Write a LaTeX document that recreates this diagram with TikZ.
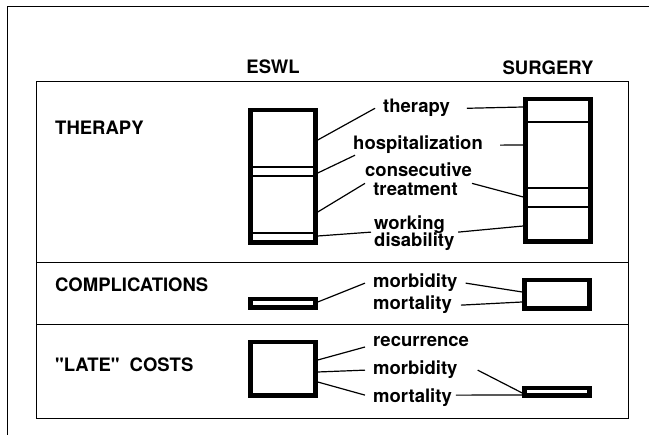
\documentclass[tikz,border=0pt]{standalone}
\usepackage{fontspec}
\setmainfont{TeX Gyre Heros}[Ligatures=TeXOff]
\usetikzlibrary{calc}

\begin{document}
\begin{tikzpicture}[x=1pt,y=-1pt,
	txt/.style={font=\fontsize{18.5}{20}\selectfont\bfseries, inner sep=3pt},
	bar/.style={draw, line width=4.5pt, inner sep=0pt, minimum width=65pt},
	link/.style={line width=1.2pt},
	frame/.style={line width=1pt}]
	\useasboundingbox (0,0) rectangle (649,435);
	% Frames
	\draw[frame] (649,7) -- (7,7) -- (7,435);
	\draw[frame] (36,82) rectangle (628,419);
	\draw[frame] (36,263) -- (628,263);
	\draw[frame] (36,325) -- (628,325);
	% Headings
	\node[txt, anchor=base] (hE) at (273,74) {ESWL};
	\node[txt, anchor=base] (hS) at (548,75) {SURGERY};
	\node[txt, anchor=base west] (rT) at (52,135) {THERAPY};
	\node[txt, anchor=base west] (rC) at (52,292) {COMPLICATIONS};
	\node[txt, anchor=base west] (rL) at (52,372) {"LATE"\hspace{10pt}COSTS};
	% Bars
	\node[bar, minimum height=132.5pt] (eT) at (283,176.5) {};
	\node[bar, minimum height=142.5pt] (sT) at (558,170.5) {};
	\node[bar, minimum height=8.5pt] (eC) at (283,303.5) {};
	\node[bar, minimum height=28.5pt] (sC) at (557,294.5) {};
	\node[bar, minimum height=53.5pt] (eL) at (283,369) {};
	\node[bar, minimum height=7.5pt] (sL) at (557,392) {};
	\foreach \y in {167,176,233}
		\draw[link] (eT.west |- 0,\y) -- (eT.east |- 0,\y);
	\foreach \y in {122,188,207}
		\draw[link] (sT.west |- 0,\y) -- (sT.east |- 0,\y);
	% Therapy
	\node[txt, anchor=base] (lTher) at (416.5,113) {therapy};
	\node[txt, anchor=base] (lHosp) at (418,150) {hospitalization};
	\node[txt, anchor=base] (lCons) at (418.5,177) {consecutive};
	\node[txt, anchor=base] (lTreat) at (415.5,196) {treatment};
	\node[txt, anchor=base west] (lWork) at (371,230) {working};
	\node[txt, anchor=base west] (lDis) at (371,247) {disability};
	\draw[link] (eT.east |- 0,140) -- ([xshift=-5pt]lTher.west);
	\draw[link] (eT.east |- 0,173) -- ([xshift=5pt,yshift=2pt]lHosp.south west);
	\draw[link] (eT.east |- 0,212) -- ([xshift=3pt,yshift=-3pt]lCons.south west);
	\draw[link] (eT.east |- 0,236) -- ([yshift=-7pt]lWork.west);
	\draw[link] ([xshift=14pt]lTher.east) -- (sT.west |- 0,107);
	\draw[link] ([xshift=14pt]lHosp.east) -- (sT.west |- 0,145);
	\draw[link] ([xshift=-3pt,yshift=-3pt]lCons.south east) -- (sT.west |- 0,197);
	\draw[link] ([xshift=10pt,yshift=-7pt]lWork.east) -- (sT.west |- 0,226);
	% Complications
	\node[txt, anchor=base west] (cMorb) at (370,288) {morbidity};
	\node[txt, anchor=base west] (cMort) at (370,310) {mortality};
	\draw[link] (eC.east |- 0,302) -- ([xshift=-5pt]cMorb.west);
	\draw[link] ([xshift=5pt]cMorb.east) -- (sC.west |- 0,292);
	\draw[link] ([xshift=6pt]cMort.east) -- (sC.west |- 0,302);
	% Late costs
	\node[txt, anchor=base west] (kRec) at (370,347) {recurrence};
	\node[txt, anchor=base west] (kMorb) at (370,375) {morbidity};
	\node[txt, anchor=base west] (kMort) at (370,403) {mortality};
	\draw[link] (eL.east |- 0,360) -- ([xshift=-5pt,yshift=-5pt]kRec.west);
	\draw[link] (eL.east |- 0,372) -- ([xshift=-5pt]kMorb.west);
	\draw[link] (eL.east |- 0,382) -- ([xshift=-5pt,yshift=3pt]kMort.west);
	\draw[link] ([xshift=17pt]kMorb.east) -- (sL.west |- 0,393);
	\draw[link] ([xshift=1pt,yshift=3pt]kMort.east) -- (sL.west |- 0,395);
\end{tikzpicture}
\end{document}
